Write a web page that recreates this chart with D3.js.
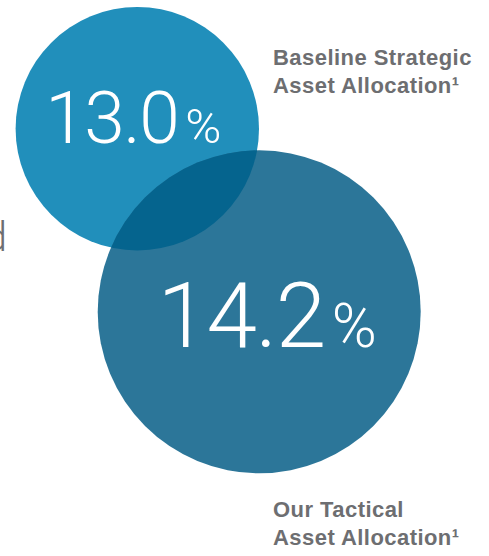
<!DOCTYPE html>
<html>
<head>
<meta charset="utf-8">
<script src="https://d3js.org/d3.v7.min.js"></script>
<style>
  html, body { margin: 0; padding: 0; background: #fff; }
  svg { display: block; }
</style>
</head>
<body>
<div id="viz"></div>
<script>
// series of the chart
var series = ["Baseline", "Tactical"];
var values = [13.0, 14.2];
var labelLines = [
    ["Baseline Strategic", "Asset Allocation\u00b9"],
    ["Our Tactical", "Asset Allocation\u00b9"]
];
var colors = ["#218fbb", "#2c7699"];
var overlapColor = "#05648e";

var width = 489, height = 556;

var svg = d3.select("#viz").append("svg")
    .attr("width", width)
    .attr("height", height);

// circle centres and sizes
var xScale = d3.scalePoint().domain(series).range([137.3, 259.2]);
var yScale = d3.scalePoint().domain(series).range([128.7, 311.8]);
var rScale = d3.scaleLinear().domain(d3.extent(values)).range([121.7, 161.5]);
var numScale = d3.scaleLinear().domain(d3.extent(values)).range([73, 91]);

var data = series.map(function(s, i) {
    return {key: s, value: values[i], lines: labelLines[i], color: colors[i]};
});

drawCutoffText();
drawCircles();
drawNumbers();
drawLabels();

// tail of a word cut off by the left edge
function drawCutoffText() {
    svg.append("text")
        .attr("x", 7)
        .attr("y", 251)
        .attr("text-anchor", "end")
        .attr("font-family", "Roboto, sans-serif")
        .attr("font-weight", 300)
        .attr("font-size", "41px")
        .attr("fill", "#6d6e71")
        .text("d");
}

function drawCircles() {
    svg.selectAll("circle.set")
        .data(data)
        .enter()
        .append("circle")
        .attr("class", "set")
        .attr("cx", function(d) { return xScale(d.key); })
        .attr("cy", function(d) { return yScale(d.key); })
        .attr("r", function(d) { return rScale(d.value); })
        .style("fill", function(d) { return d.color; });

    // intersection
    var a = data[0], b = data[1];
    svg.append("clipPath")
        .attr("id", "clipB")
        .append("circle")
        .attr("cx", xScale(b.key))
        .attr("cy", yScale(b.key))
        .attr("r", rScale(b.value));

    svg.append("circle")
        .attr("cx", xScale(a.key))
        .attr("cy", yScale(a.key))
        .attr("r", rScale(a.value))
        .attr("clip-path", "url(#clipB)")
        .style("fill", overlapColor);
}

function drawNumbers() {
    var t = svg.selectAll("text.num")
        .data(data)
        .enter()
        .append("text")
        .attr("class", "num")
        .attr("x", function(d) { return xScale(d.key) + (d.key == "Tactical" ? 8 : -4); })
        .attr("y", function(d) { return yScale(d.key) + 14 + (d.key == "Tactical" ? 21 : 0); })
        .attr("text-anchor", "middle")
        .attr("font-family", "Roboto, sans-serif")
        .attr("font-weight", 300)
        .attr("fill", "#fff");

    t.append("tspan")
        .attr("font-size", function(d) { return numScale(d.value) + "px"; })
        .attr("letter-spacing", "-1.5px")
        .text(function(d) { return d3.format(".1f")(d.value); });

    t.append("tspan")
        .attr("font-size", function(d) { return numScale(d.value) * 0.67 + "px"; })
        .attr("dx", 7)
        .text("%");
}

function drawLabels() {
    var lab = svg.selectAll("text.lab")
        .data(data)
        .enter()
        .append("text")
        .attr("class", "lab")
        .attr("x", 273)
        .attr("y", function(d, i) { return i == 0 ? 65 : 517; })
        .attr("font-family", "'Liberation Sans', Arial, sans-serif")
        .attr("font-weight", "bold")
        .attr("font-size", "22px")
        .attr("letter-spacing", "0.45px")
        .attr("fill", "#6d6e71");

    lab.selectAll("tspan")
        .data(function(d) { return d.lines; })
        .enter()
        .append("tspan")
        .attr("x", 273)
        .attr("dy", function(d, i) { return i == 0 ? 0 : 28; })
        .text(function(d) { return d; });
}
</script>
</body>
</html>
